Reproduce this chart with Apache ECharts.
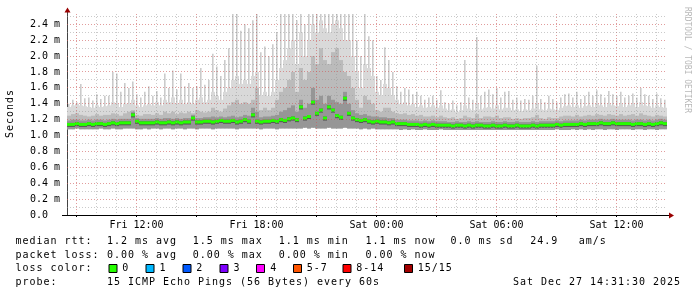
<!DOCTYPE html>
<html><head><meta charset="utf-8">
<script src="https://cdn.jsdelivr.net/npm/echarts@6.0.0/dist/echarts.min.js"></script>
<style>html,body{margin:0;padding:0;background:#fff}#c{width:697px;height:297px}</style>
</head><body><div id="c"></div><script>
// ---- time base: 150 columns of 12 minutes, starting Fri 08:31:30 (hours since Fri 00:00)
const T0 = 8.525, STEP = 0.2;

// smoke: lowest ping per column (ms)
const minV = [
1.08,1.08,1.09,1.08,1.08, 1.08,1.08,1.08,1.09,1.08, 1.08,1.09,1.08,1.08,1.09, 1.09,1.09,1.08,1.08,1.09,
1.08,1.09,1.09,1.08,1.09, 1.09,1.08,1.09,1.09,1.08, 1.09,1.09,1.08,1.09,1.09, 1.09,1.08,1.09,1.09,1.09,
1.09,1.09,1.08,1.09,1.09, 1.09,1.09,1.09,1.08,1.09, 1.09,1.09,1.08,1.09,1.09, 1.09,1.09,1.09,1.09,1.10,
1.09,1.10,1.09,1.09,1.09, 1.10,1.09,1.09,1.09,1.10, 1.09,1.09,1.09,1.08,1.09, 1.08,1.09,1.08,1.08,1.08,
1.08,1.08,1.08,1.07,1.08, 1.07,1.08,1.07,1.07,1.08, 1.07,1.07,1.07,1.08,1.07, 1.07,1.07,1.07,1.07,1.07,
1.07,1.07,1.07,1.07,1.07, 1.07,1.07,1.07,1.07,1.07, 1.07,1.07,1.07,1.07,1.07, 1.07,1.07,1.07,1.07,1.07,
1.07,1.07,1.08,1.07,1.07, 1.07,1.08,1.07,1.08,1.07, 1.08,1.07,1.08,1.08,1.07, 1.08,1.08,1.07,1.08,1.08,
1.08,1.07,1.08,1.08,1.07, 1.08,1.08,1.07,1.08,1.08];
// smoke: top of the dense light band
const upperV = [
1.36,1.38,1.40,1.38,1.37, 1.36,1.35,1.38,1.36,1.37, 1.38,1.42,1.40,1.36,1.40, 1.40,1.45,1.38,1.36,1.38,
1.40,1.38,1.42,1.38,1.45, 1.42,1.48,1.40,1.45,1.40, 1.42,1.40,1.45,1.48,1.42, 1.45,1.55,1.50,1.45,1.55,
1.60,1.70,1.75,1.65,1.70, 1.65,1.75,1.80,1.50,1.55, 1.50,1.55,1.70,1.85,1.95, 2.10,2.20,1.90,2.30,2.00,
2.20,2.40,2.30,2.45,2.35, 2.30,2.40,2.45,2.35,2.20, 2.20,2.00,1.80,1.60,1.90, 1.85,1.75,1.55,1.50,1.65,
1.60,1.50,1.45,1.40,1.42, 1.38,1.40,1.36,1.38,1.35, 1.36,1.38,1.35,1.38,1.34, 1.32,1.33,1.30,1.32,1.38,
1.34,1.32,1.40,1.33,1.35, 1.36,1.34,1.38,1.33,1.35, 1.35,1.32,1.33,1.31,1.33, 1.32,1.34,1.40,1.33,1.32,
1.34,1.33,1.32,1.35,1.37, 1.38,1.36,1.38,1.35,1.37, 1.38,1.36,1.40,1.38,1.36, 1.40,1.38,1.37,1.40,1.36,
1.38,1.40,1.36,1.42,1.38, 1.37,1.35,1.38,1.36,1.35];
// smoke: top of the medium-grey band
const innerV = [
1.25,1.27,1.28,1.26,1.25, 1.24,1.25,1.27,1.25,1.26, 1.26,1.28,1.27,1.25,1.28, 1.30,1.32,1.26,1.25,1.27,
1.27,1.26,1.28,1.26,1.30, 1.28,1.30,1.27,1.29,1.28, 1.30,1.28,1.32,1.30,1.29, 1.30,1.35,1.32,1.30,1.34,
1.38,1.42,1.45,1.40,1.42, 1.40,1.45,1.60,1.32,1.35, 1.32,1.35,1.45,1.55,1.60, 1.70,1.80,1.55,1.85,1.70,
1.80,2.00,1.90,2.10,1.95, 1.90,2.05,2.10,1.95,1.80, 1.75,1.60,1.45,1.35,1.50, 1.45,1.40,1.32,1.30,1.35,
1.35,1.30,1.28,1.27,1.28, 1.26,1.27,1.25,1.26,1.24, 1.24,1.25,1.23,1.25,1.23, 1.22,1.23,1.21,1.22,1.25,
1.23,1.22,1.27,1.22,1.24, 1.24,1.23,1.25,1.22,1.23, 1.23,1.21,1.22,1.21,1.22, 1.22,1.23,1.26,1.22,1.21,
1.23,1.22,1.22,1.24,1.25, 1.25,1.24,1.26,1.24,1.25, 1.26,1.25,1.27,1.26,1.25, 1.27,1.26,1.25,1.27,1.25,
1.26,1.27,1.25,1.28,1.26, 1.25,1.24,1.26,1.25,1.24];
// smoke: top of the dark core around the median
const coreV = [
1.19,1.20,1.20,1.19,1.19, 1.20,1.19,1.20,1.20,1.19, 1.20,1.21,1.20,1.21,1.21, 1.21,1.30,1.22,1.21,1.21,
1.21,1.21,1.22,1.21,1.22, 1.22,1.21,1.22,1.21,1.22, 1.22,1.26,1.22,1.22,1.23, 1.23,1.24,1.23,1.24,1.23,
1.24,1.25,1.23,1.24,1.26, 1.25,1.35,1.30,1.23,1.24, 1.24,1.25,1.26,1.30,1.32, 1.35,1.38,1.30,1.45,1.35,
1.40,1.60,1.45,1.50,1.40, 1.50,1.45,1.42,1.40,1.55, 1.40,1.32,1.28,1.26,1.27, 1.25,1.24,1.24,1.23,1.23,
1.22,1.22,1.20,1.20,1.20, 1.19,1.19,1.19,1.18,1.19, 1.18,1.19,1.18,1.18,1.18, 1.17,1.17,1.18,1.17,1.17,
1.18,1.17,1.18,1.17,1.17, 1.17,1.18,1.17,1.17,1.18, 1.17,1.17,1.18,1.17,1.17, 1.17,1.18,1.17,1.18,1.18,
1.18,1.18,1.19,1.18,1.19, 1.19,1.19,1.19,1.20,1.19, 1.20,1.20,1.20,1.21,1.20, 1.20,1.21,1.20,1.20,1.20,
1.20,1.19,1.20,1.20,1.19, 1.20,1.19,1.20,1.21,1.20];
// smoke: highest ping per column (spikes)
const maxV = [
1.40,1.45,1.42,1.65,1.47, 1.48,1.44,1.52,1.46,1.50, 1.50,1.80,1.78,1.55,1.66, 1.60,1.68,1.52,1.48,1.55,
1.62,1.50,1.56,1.48,1.78, 1.60,1.82,1.58,1.78,1.62, 1.66,1.60,1.62,1.85,1.64, 1.70,2.03,1.87,1.75,1.95,
2.10,2.53,2.53,2.32,2.40, 2.35,2.45,2.53,2.05,2.12, 2.00,2.15,2.30,2.53,2.53, 2.53,2.53,2.45,2.53,2.40,
2.53,2.53,2.53,2.53,2.53, 2.53,2.53,2.53,2.53,2.53, 2.53,2.53,2.20,2.00,2.53, 2.25,2.20,1.75,1.70,2.11,
1.95,1.80,1.62,1.55,1.60, 1.58,1.52,1.55,1.50,1.45, 1.48,1.50,1.45,1.57,1.42, 1.40,1.44,1.38,1.42,1.95,
1.48,1.45,2.24,1.50,1.55, 1.58,1.52,1.60,1.48,1.55, 1.56,1.45,1.48,1.44,1.46, 1.45,1.50,1.88,1.46,1.42,
1.50,1.46,1.42,1.48,1.52, 1.53,1.48,1.55,1.46,1.50, 1.55,1.50,1.57,1.52,1.48, 1.56,1.52,1.50,1.55,1.48,
1.50,1.53,1.48,1.60,1.52, 1.50,1.46,1.53,1.47,1.45];
// median rtt per column (0 % loss everywhere -> green)
const medV = [
1.14,1.14,1.15,1.14,1.14, 1.15,1.14,1.15,1.15,1.14, 1.15,1.16,1.15,1.16,1.16, 1.16,1.26,1.18,1.16,1.16,
1.16,1.16,1.17,1.16,1.16, 1.17,1.16,1.17,1.16,1.17, 1.17,1.22,1.17,1.17,1.18, 1.18,1.17,1.18,1.19,1.18,
1.18,1.19,1.17,1.18,1.20, 1.18,1.26,1.18,1.17,1.18, 1.18,1.19,1.18,1.20,1.19, 1.21,1.22,1.20,1.36,1.22,
1.24,1.42,1.28,1.32,1.22, 1.36,1.32,1.25,1.23,1.47, 1.28,1.22,1.20,1.19,1.20, 1.18,1.17,1.18,1.17,1.17,
1.16,1.17,1.15,1.15,1.15, 1.14,1.14,1.14,1.13,1.14, 1.13,1.14,1.13,1.13,1.13, 1.13,1.12,1.13,1.13,1.12,
1.13,1.12,1.13,1.13,1.12, 1.12,1.13,1.12,1.12,1.13, 1.12,1.12,1.13,1.12,1.12, 1.12,1.13,1.12,1.13,1.13,
1.13,1.13,1.14,1.13,1.14, 1.14,1.14,1.14,1.15,1.14, 1.15,1.15,1.15,1.16,1.15, 1.15,1.16,1.15,1.15,1.15,
1.15,1.14,1.15,1.15,1.14, 1.15,1.14,1.15,1.16,1.15];

// ---- axis ticks / labels
const xLabelHours = [12, 18, 24, 30, 36];
const xMajorHours = [9, 12, 15, 18, 21, 24, 27, 30, 33, 36];
const xMinorHours = [9,10,11,12,13,14,15,16,17,18,19,20,21,22,23,24,25,26,27,28,29,30,31,32,33,34,35,36,37,38];
const yMajor = [0.2,0.4,0.6,0.8,1.0,1.2,1.4,1.6,1.8,2.0,2.2,2.4];
const yMinor = [0.1,0.3,0.5,0.7,0.9,1.1,1.3,1.5,1.7,1.9,2.1,2.3,2.5];

// ---- legend texts
const rttLabel = 'median rtt:';
const rttItems = ['1.2 ms avg', '1.5 ms max', '1.1 ms min', '1.1 ms now', '0.0 ms sd', '24.9', 'am/s'];
const lossLabel = 'packet loss:';
const lossItems = ['0.00 % avg', '0.00 % max', '0.00 % min', '0.00 % now'];
const colorLabel = 'loss color:';
const lossClasses = ['0', '1', '2', '3', '4', '5-7', '8-14', '15/15'];
const probeLabel = 'probe:';
const probeText = '15 ICMP Echo Pings (56 Bytes) every 60s';
const dateText = 'Sat Dec 27 14:31:30 2025';

// ---- styles / layout (not data)
const lossColors = ['#26ff00', '#00b8ff', '#0059ff', '#7e00ff', '#ff00ff', '#ff5500', '#ff0000', '#a10000'];
const FONT = '"DejaVu Sans Mono", monospace';
const rttX = [106.5, 192.3, 278.3, 365, 450, 529.7, 578.3];
const lossX = [106.5, 192.3, 278.3, 365];
const boxX = [108.5, 145.5, 182.5, 219.5, 256, 293, 342.5, 404];
const boxTextX = [121.7, 159, 195.7, 233, 269.7, 306.3, 355.7, 417.3];

function chars(str, x0, yc, pitch, size, color, rot) {
  const out = [];
  for (let i = 0; i < str.length; i++) {
    const ch = str[i];
    if (ch === ' ') continue;
    let x, y;
    if (!rot) { x = x0 + pitch * (i + 0.5); y = yc; }
    else if (rot > 0) { x = x0; y = yc - pitch * (i + 0.5); }
    else { x = x0; y = yc + pitch * (i + 0.5); }
    out.push({ type: 'text', x: x, y: y, rotation: rot || 0, silent: true, z: 20,
      style: { text: ch, font: size + 'px ' + FONT, fill: color,
        align: 'center', verticalAlign: 'middle', textAlign: 'center', textVerticalAlign: 'middle' } });
  }
  return out;
}

const smokeData = minV.map((m, i) => [T0 + STEP * (i + 0.5), m, upperV[i], innerV[i], coreV[i], maxV[i], medV[i]]);

function smokeItem(params, api) {
  const x = api.value(0);
  const w = api.size([STEP, 0])[0];
  const cx = api.coord([x, 0])[0];
  const px = cx - w / 2;
  const Y = v => api.coord([x, v])[1];
  const yMin = Y(api.value(1));
  const rect = (top, bottom, left, width, fill) => ({ type: 'rect',
    shape: { x: left, y: top, width: width, height: Math.max(0, bottom - top) }, style: { fill: fill } });
  const yMed = Y(api.value(6));
  return { type: 'group', children: [
    rect(Y(api.value(5)), yMin, cx - 1, 1.6, '#cbcbcb'),
    rect(Y(api.value(2)), yMin, px, w, '#d9d9d9'),
    rect(Y(api.value(3)), yMin, px, w, '#bbbbbb'),
    rect(Y(api.value(4)), yMin, px, w, '#969696'),
    rect(yMed - 1.5, yMed + 2.5, px, w, '#555555'),
    rect(yMed - 1.5, yMed + 1.5, px, w, lossColors[0])
  ] };
}

function gridItemV(params, api) {
  const x = api.value(0);
  const major = api.value(1);
  const cs = params.coordSys;
  const px = Math.round(api.coord([x, 0])[0] - 0.5) + 0.5;
  return { type: 'line', shape: { x1: px, y1: cs.y, x2: px, y2: cs.y + cs.height },
    style: { stroke: major ? 'rgba(205,90,90,0.6)' : 'rgba(150,150,150,0.5)', lineWidth: 1, lineDash: [1, 2] } };
}
function gridItemH(params, api) {
  const v = api.value(1);
  const major = api.value(2);
  const cs = params.coordSys;
  const py = Math.round(api.coord([T0, v])[1] - 0.5) + 0.5;
  return { type: 'line', shape: { x1: cs.x, y1: py, x2: cs.x + cs.width, y2: py },
    style: { stroke: major ? 'rgba(205,90,90,0.6)' : 'rgba(150,150,150,0.5)', lineWidth: 1, lineDash: [1, 2] } };
}

const vGrid = xMinorHours.map(h => [h, xMajorHours.indexOf(h) >= 0 ? 1 : 0])
  .sort((a, b) => a[1] - b[1]);
const hGrid = yMinor.map(v => [T0, v, 0]).concat(yMajor.map(v => [T0, v, 1]));

// legend graphics
let g = [];
g = g.concat(chars(rttLabel, 15, 241.5, 7, 10, '#000'));
rttItems.forEach((t, i) => { g = g.concat(chars(t, rttX[i], 241.5, 7, 10, '#000')); });
g = g.concat(chars(lossLabel, 15, 255, 7, 10, '#000'));
lossItems.forEach((t, i) => { g = g.concat(chars(t, lossX[i], 255, 7, 10, '#000')); });
g = g.concat(chars(colorLabel, 15, 268.5, 7, 10, '#000'));
lossClasses.forEach((t, i) => {
  g.push({ type: 'rect', silent: true, z: 20, shape: { x: boxX[i] + 0.5, y: 264.5, width: 8, height: 8 },
    style: { fill: lossColors[i], stroke: '#000', lineWidth: 1 } });
  g = g.concat(chars(t, boxTextX[i], 268.5, 7, 10, '#000'));
});
g = g.concat(chars(probeLabel, 15, 282.5, 7, 10, '#000'));
g = g.concat(chars(probeText, 106.5, 282.5, 7, 10, '#000'));
g = g.concat(chars(dateText, 512.5, 282.5, 7, 10, '#000'));
g = g.concat(chars('Seconds', 10, 138.5, 7, 10, '#000', Math.PI / 2));
g.push({ type: 'text', x: 687, y: 60, rotation: -Math.PI / 2, silent: true, z: 20,
  style: { text: 'RRDTOOL / TOBI OETIKER', font: '8px ' + FONT, fill: '#b8b8b8',
    align: 'center', verticalAlign: 'middle', textAlign: 'center', textVerticalAlign: 'middle' } });
// axis extensions and arrows
g.push({ type: 'line', silent: true, z: 20, shape: { x1: 67.5, y1: 11, x2: 67.5, y2: 15 }, style: { stroke: '#444', lineWidth: 1 } });
g.push({ type: 'line', silent: true, z: 20, shape: { x1: 62, y1: 215.5, x2: 670, y2: 215.5 }, style: { stroke: '#000', lineWidth: 1 } });
g.push({ type: 'polygon', silent: true, z: 21, shape: { points: [[67.5, 7.5], [64.5, 12.5], [70.5, 12.5]] }, style: { fill: '#990000' } });
g.push({ type: 'polygon', silent: true, z: 21, shape: { points: [[674, 215.5], [669, 212.5], [669, 218.5]] }, style: { fill: '#990000' } });

const chart = echarts.init(document.getElementById('c'), null, { renderer: 'canvas' });
chart.setOption({
  animation: false,
  backgroundColor: '#ffffff',
  grid: { left: 67, top: 14, width: 600, height: 201, containLabel: false },
  xAxis: {
    type: 'value', min: T0, max: T0 + 30,
    axisLine: { show: false },
    splitLine: { show: false },
    axisTick: { show: true, customValues: xMajorHours, length: 2, lineStyle: { color: '#000' } },
    axisLabel: {
      customValues: xLabelHours, margin: 5, fontSize: 10, fontFamily: FONT, color: '#000',
      formatter: v => (v < 24 ? 'Fri ' : 'Sat ') + String(Math.round(v) % 24).padStart(2, '0') + ':00'
    }
  },
  yAxis: {
    type: 'value', min: 0, max: 2.53, interval: 0.2,
    axisLine: { show: true, lineStyle: { color: '#444' } },
    axisTick: { show: false },
    splitLine: { show: false },
    axisLabel: {
      showMaxLabel: false, margin: 7, fontSize: 10, fontFamily: FONT, color: '#000',
      formatter: v => (Math.abs(v) < 1e-9 ? '0.0  ' : v.toFixed(1) + ' m')
    }
  },
  series: [
    { type: 'custom', name: 'smoke', renderItem: smokeItem, data: smokeData, clip: true, z: 2,
      encode: { x: 0, y: [1, 5] }, silent: true },
    { type: 'custom', name: 'vgrid', renderItem: gridItemV, data: vGrid, z: 5, silent: true,
      encode: { x: 0 } },
    { type: 'custom', name: 'hgrid', renderItem: gridItemH, data: hGrid, z: 5, silent: true,
      encode: { x: 0, y: 1 } }
  ],
  graphic: { elements: g }
});
</script></body></html>
